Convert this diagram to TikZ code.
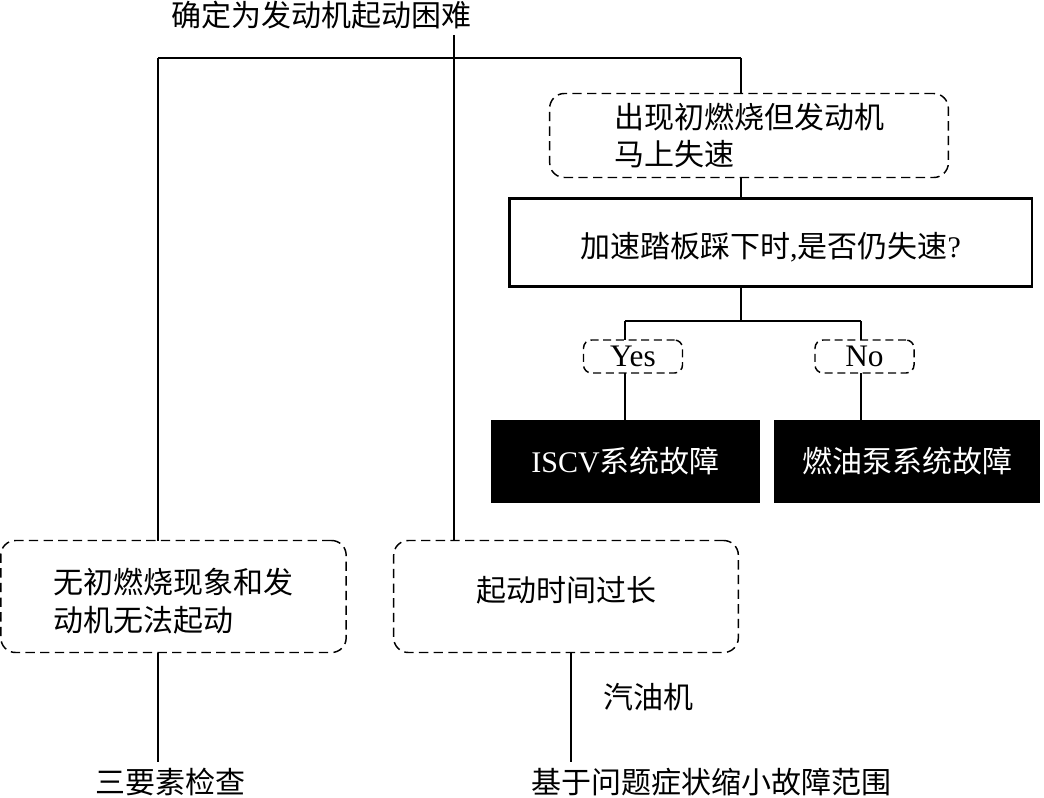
\documentclass[tikz,border=0pt]{standalone}
\usepackage{fontspec}
\setmainfont{Liberation Serif}
\newfontfamily\cjk{Noto Sans CJK SC}
\begin{document}
\begin{tikzpicture}[x=0.75pt,y=-0.75pt,
  every node/.style={inner sep=0pt,outer sep=0pt,font=\fontsize{22.5}{28}\selectfont},
  dbox/.style={draw,dash pattern=on 7pt off 4pt,line width=1.1pt,rounded corners=11pt,align=left},
  ybox/.style={draw,dash pattern=on 6pt off 3.5pt,line width=1.1pt,rounded corners=6pt,minimum width=74.25pt,minimum height=24.75pt,font=\fontsize{23.5}{28}\selectfont},
  sbox/.style={draw,line width=2pt,minimum width=392pt,minimum height=66pt},
  bbox/.style={fill=black,text=white,minimum height=62.25pt},
  ln/.style={line width=0.8pt},
  lbl/.style={}]
\useasboundingbox (0,0) rectangle (1044,798);
\node[lbl] (title) at (321,15) {\cjk 确定为发动机起动困难};
\node[dbox,minimum width=299pt,minimum height=63pt] (b1) at (749,135.5) {\cjk 出现初燃烧但发动机\\\cjk 马上失速};
\node[sbox,label={[yshift=-3.75pt]center:{{\cjk 加速踏板踩下时},{\cjk 是否仍失速}?}}] (b2) at (770.5,242.5) {};
\node[ybox] (yes) at (633,356.5) {Yes};
\node[ybox] (no) at (864.5,356.5) {No};
\node[bbox,minimum width=201.75pt] (iscv) at (625.5,461) {ISCV{\cjk 系统故障}};
\node[bbox,minimum width=199.5pt] (pump) at (907,461) {\cjk 燃油泵系统故障};
\node[dbox,minimum width=259pt,minimum height=84pt,
  label={[align=left,yshift=-3.5pt]center:{\cjk 无初燃烧现象和发\\\cjk 动机无法起动}}] (left) at (173.5,596.5) {};
\node[dbox,minimum width=258.5pt,minimum height=84pt,
  label={[yshift=4.5pt]center:{\cjk 起动时间过长}}] (mid) at (566,596.5) {};
\node[lbl] (three) at (170,782) {\cjk 三要素检查};
\node[lbl] (gas) at (648,697) {\cjk 汽油机};
\node[lbl] (bottom) at (711,782) {\cjk 基于问题症状缩小故障范围};
\coordinate (tj) at (454,35);
\coordinate (hl) at (158,58);
\coordinate (hr) at (741,58);
\coordinate (sp) at (741,321);
\coordinate (ya) at (625,321);
\coordinate (na) at (861,321);
\coordinate (lb) at (158,762);
\coordinate (mb) at (571,762);
\draw[ln] (tj) -- (tj |- mid.north);
\draw[line width=1.5pt] (hl) -- (hr);
\draw[ln] (hl) -- (hl |- left.north);
\draw[ln] (hr) -- (hr |- b1.north);
\draw[ln] (b1.south -| hr) -- (b2.north -| hr);
\draw[line width=1.4pt] (b2.south -| sp) -- (sp);
\draw[ln] (ya) -- (na);
\draw[ln] (ya) -- (ya |- yes.north);
\draw[ln] (na) -- (na |- no.north);
\draw[ln] (yes.south -| ya) -- (iscv.north -| ya);
\draw[ln] (no.south -| na) -- (pump.north -| na);
\draw[ln] (left.south -| lb) -- (lb);
\draw[ln] (mid.south -| mb) -- (mb);
\end{tikzpicture}
\end{document}
